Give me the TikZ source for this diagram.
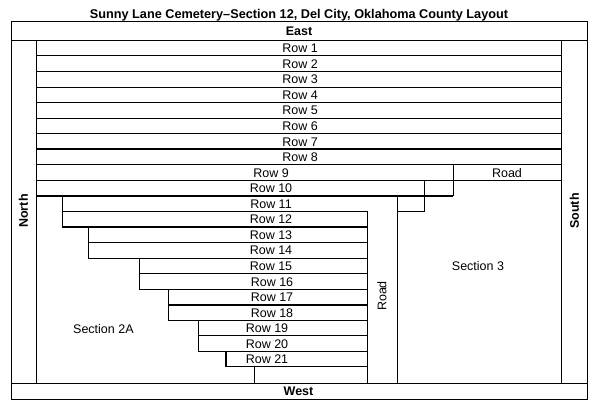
\documentclass[tikz,border=0pt]{standalone}
\usepackage{fontspec}
\setmainfont{Liberation Sans}
\begin{document}
\begin{tikzpicture}[x=1pt,y=-1pt,line width=0.9pt,line cap=rect,
  heavy/.style={line width=1.7pt,line cap=butt},
  lbl/.style={inner sep=0pt,font=\fontsize{12.5}{14}\selectfont},
  blbl/.style={inner sep=0pt,font=\fontsize{12.5}{14}\selectfont\bfseries},
  ttl/.style={inner sep=0pt,font=\fontsize{12.7}{15}\selectfont\bfseries}]
\useasboundingbox (0,0) rectangle (600,415);
\def\yy#1{40.3+#1*15.55}
% outer frame and bands
\draw (11,21) rectangle (587,399);
\draw (11,40.3) -- (587,40.3);
\draw (11,383.3) -- (587,383.3);
\draw (36,40.3) -- (36,383.3);
\draw (561,40.3) -- (561,383.3);
% row lines
\foreach \k in {1,...,9} {\draw (36,{\yy{\k}}) -- (561,{\yy{\k}});}
\draw[heavy] (36,{\yy{6}}) -- (561,{\yy{6}});
\draw[heavy] (36,{\yy{7}}) -- (561,{\yy{7}});
\draw[heavy] (36,{\yy{10}}) -- (453,{\yy{10}});
\draw (62,{\yy{11}}) -- (367,{\yy{11}});
\draw (397,{\yy{11}}) -- (424,{\yy{11}});
\draw[heavy] (62,{\yy{12}}) -- (367,{\yy{12}});
\foreach \k/\xl in {13/88,14/88,15/139,16/139,17/168,18/168,19/198,20/198,21/226}
  {\draw (\xl,{\yy{\k}}) -- (367,{\yy{\k}});}
\draw[heavy] (88,{\yy{13}}) -- (367,{\yy{13}});
\draw[heavy] (168,{\yy{17}}) -- (367,{\yy{17}});
% vertical lines
\draw (453,{\yy{8}}) -- (453,{\yy{10}});
\draw (424,{\yy{9}}) -- (424,{\yy{11}});
\draw (397,{\yy{10}}) -- (397,383.3);
\draw (367,{\yy{11}}) -- (367,383.3);
\draw (62,{\yy{10}}) -- (62,{\yy{12}});
\draw (88,{\yy{12}}) -- (88,{\yy{14}});
\draw (139,{\yy{14}}) -- (139,{\yy{16}});
\draw (168,{\yy{16}}) -- (168,{\yy{18}});
\draw (198,{\yy{18}}) -- (198,{\yy{20}});
\draw[heavy] (226,{\yy{20}}) -- (226,{\yy{21}});
\draw (254,{\yy{21}}) -- (254,383.3);
% labels
\node[ttl,anchor=base] (title) at (299,18.5) {Sunny Lane Cemetery–Section 12, Del City, Oklahoma County Layout};
\node[blbl,anchor=base] (east) at (299,35.7) {East};
\node[blbl,anchor=base] (west) at (298.5,395.7) {West};
\node[blbl,rotate=90] (north) at (23.5,211) {North};
\node[blbl,rotate=90] (south) at (574.5,211) {South};
\foreach \k/\xc in {1/300,2/300,3/300,4/300,5/300,6/300,7/300,8/300,9/271,10/271,11/271,12/271,13/271,14/271,15/271,16/272,17/272,18/272,19/267,20/267,21/267}
  {\node[lbl,anchor=base] (row\k) at (\xc,{\yy{\k}-3.1}) {Row \k};}
\node[lbl,anchor=base] (road1) at (507,{\yy{9}-3.1}) {Road};
\node[lbl,rotate=90] (road2) at (382,296) {Road};
\node[lbl] (sec3) at (478,266.5) {Section 3};
\node[lbl] (sec2a) at (103.4,329.5) {Section 2A};
\end{tikzpicture}
\end{document}
